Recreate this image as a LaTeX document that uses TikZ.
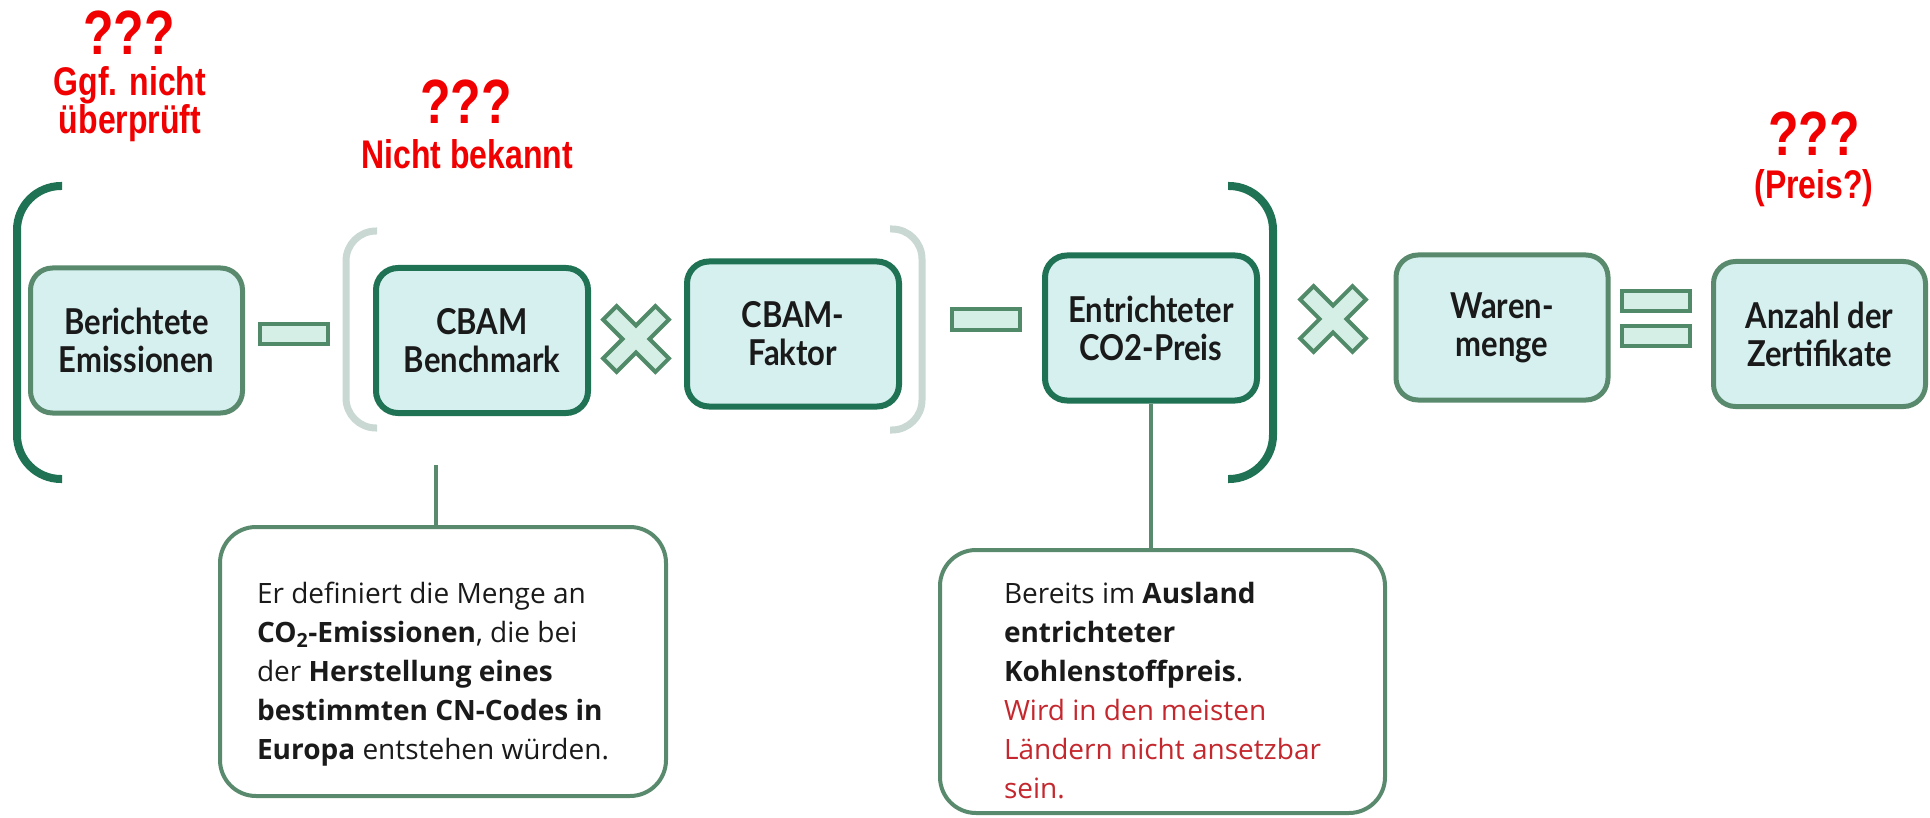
\documentclass[tikz,border=0pt]{standalone}
\usepackage{fontspec}
\usepackage{graphicx}
\setmainfont{Lato}
\newfontfamily\arialf{Liberation Sans}
\newfontfamily\calloutf{Open Sans}
\definecolor{boxfill}{RGB}{214,240,240}
\definecolor{mutedg}{RGB}{90,138,110}
\definecolor{darkg}{RGB}{31,114,83}
\definecolor{opfill}{RGB}{213,239,230}
\definecolor{opline}{RGB}{80,138,104}
\definecolor{graybr}{RGB}{201,216,211}
\definecolor{annred}{RGB}{240,0,0}
\definecolor{callred}{RGB}{196,40,46}
\definecolor{txt}{RGB}{26,26,26}
\newcommand\vst[1]{\scalebox{1}[1.15]{#1}}
\newcommand\vsr[1]{\scalebox{1}[1.25]{#1}}
\begin{document}
\begin{tikzpicture}[x=1pt,y=-1pt,
  box/.style={draw=mutedg, line width=5pt, fill=boxfill, rounded corners=22pt,
    minimum width=212pt, minimum height=145pt, align=center, inner sep=0pt,
    text=txt, font=\bfseries\fontsize{31}{38}\selectfont},
  boxdk/.style={box, draw=darkg, line width=6pt},
  opbar/.style={draw=opline, line width=4pt, fill=opfill, minimum width=68pt,
    minimum height=20pt, inner sep=0pt},
  opx/.style={draw=opline, line width=4pt, fill=opfill, line join=miter},
  darkbr/.style={draw=darkg, line width=8pt, rounded corners=44pt},
  graybr/.style={draw=graybr, line width=7pt, rounded corners=30pt},
  callout/.style={draw=mutedg, line width=4pt, fill=white, rounded corners=36pt,
    inner sep=0pt, text=txt, font=\calloutf\fontsize{28}{39}\selectfont},
  conn/.style={draw=mutedg, line width=4pt},
  ann/.style={text=annred, align=center, inner sep=0pt,
    font=\arialf\bfseries\fontsize{32}{37}\selectfont},
  annq/.style={text=annred, inner sep=0pt, font=\arialf\bfseries\fontsize{50}{50}\selectfont}
]
\useasboundingbox[fill=white] (0,0) rectangle (1930,818);

% brackets
\draw[darkbr] (62,186) -- (17,186) -- (17,479) -- (62,479);
\draw[darkbr] (1228,186) -- (1273,186) -- (1273,479) -- (1228,479);
\draw[graybr] (377,231) -- (346,231) -- (346,428) -- (377,428);
\draw[graybr] (890,229) -- (922,229) -- (922,430) -- (890,430);

% boxes
\node[box]   (b1) at (136.5,340.5) {\vst{Berichtete}\\\vst{Emissionen}};
\node[boxdk] (b2) at (482,340.5) {\vst{CBAM}\\\vst{Benchmark}};
\node[boxdk] (b3) at (793,334) {\vst{CBAM-}\\\vst{Faktor}};
\node[boxdk] (b4) at (1151,328) {\vst{Entrichteter}\\\vst{CO2-Preis}};
\node[box]   (b5) at (1502,327.5) {\vst{Waren-}\\\vst{menge}};
\node[box]   (b6) at (1819.5,334) {\vst{Anzahl der}\\\vst{Zertifikate}};

% operators
\node[opbar] (m1) at (294,334) {};
\node[opbar] (m2) at (985.5,319.5) {};
\node[opbar] (e1) at (1656,301) {};
\node[opbar] (e2) at (1656,336) {};
\coordinate (x1) at (636,339);
\coordinate (x2) at (1333,319);
\foreach \c in {x1,x2}{
  \draw[opx, shift={(\c)}, rotate=45]
    (-9.5,37) -- (9.5,37) -- (9.5,9.5) -- (37,9.5) -- (37,-9.5) -- (9.5,-9.5) -- (9.5,-37)
    -- (-9.5,-37) -- (-9.5,-9.5) -- (-37,-9.5) -- (-37,9.5) -- (-9.5,9.5) -- cycle;
}

% callouts
\node[callout, minimum width=446pt, minimum height=269pt] (c1) at (443,661.5)
 {\raisebox{-12pt}[\height][\depth]{\hspace*{-20pt}\begin{tabular}{@{}l@{}}
  Er definiert die Menge an\\
  \textbf{CO\textsubscript{2}-Emissionen}, die bei\\
  der \textbf{Herstellung eines}\\
  \textbf{bestimmten CN-Codes in}\\
  \textbf{Europa} entstehen würden.\end{tabular}}};
\node[callout, minimum width=445pt, minimum height=263pt] (c2) at (1162.5,681.5)
 {\raisebox{-12pt}[\height][\depth]{\begin{tabular}{@{}l@{}}
  Bereits im \textbf{Ausland}\\
  \textbf{entrichteter}\\
  \textbf{Kohlenstoffpreis}.\\
  \textcolor{callred}{Wird in den meisten}\\
  \textcolor{callred}{Ländern nicht ansetzbar}\\
  \textcolor{callred}{sein.}\end{tabular}}};

% connectors
\coordinate (k1) at (436,465);
\draw[conn] (k1) -- (k1 |- c1.north);
\draw[conn] (b4.south) -- (b4.south |- c2.north);

% annotations
\node[annq] (q1) at (129,33) {\vsr{???}};
\node[ann]  (a1) at (130,104) {\vsr{Ggf. nicht}\\\vsr{überprüft}};
\node[annq] (q2) at (466,102) {\vsr{???}};
\node[ann]  (a2) at (467,154) {\vsr{Nicht bekannt}};
\node[annq] (q3) at (1814,134) {\vsr{???}};
\node[ann]  (a3) at (1814,188) {\vsr{(Preis?)}};
\end{tikzpicture}
\end{document}
